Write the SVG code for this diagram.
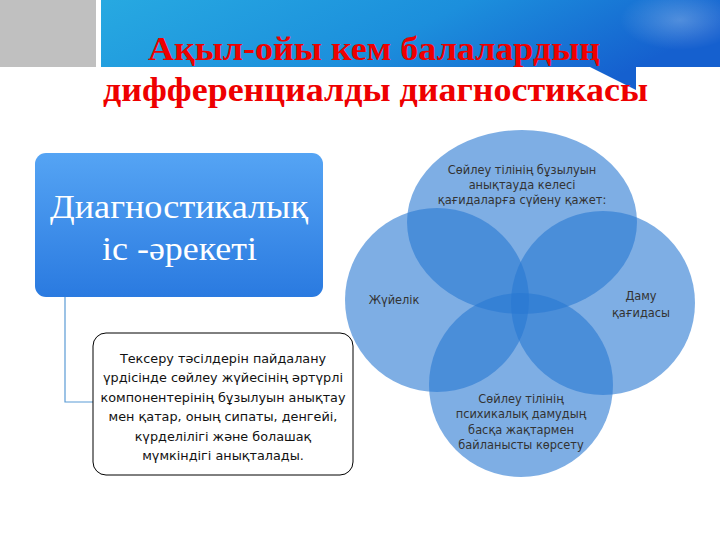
<svg xmlns="http://www.w3.org/2000/svg" width="720" height="540" viewBox="0 0 720 540">
<defs>
<linearGradient id="banner" x1="0" y1="0" x2="1" y2="0.3">
<stop offset="0" stop-color="#27a9e1"/>
<stop offset="0.55" stop-color="#1c8fdc"/>
<stop offset="1" stop-color="#1560cf"/>
</linearGradient>
<linearGradient id="node" x1="0" y1="0" x2="0" y2="1">
<stop offset="0" stop-color="#55a4f4"/>
<stop offset="1" stop-color="#2a7ae0"/>
</linearGradient>
<radialGradient id="glow" cx="0.5" cy="0.5" r="0.5">
<stop offset="0" stop-color="#ffffff" stop-opacity="0.25"/>
<stop offset="1" stop-color="#ffffff" stop-opacity="0"/>
</radialGradient>
</defs>
<style>
.title{font-family:"Liberation Serif","DejaVu Serif",serif;font-weight:bold;font-size:34px;fill:#ee0000}
.circ{fill:#2878d2;fill-opacity:0.6}
.ct{font-family:"DejaVu Sans","Noto Sans",sans-serif;font-size:11.4px;fill:#333333;text-anchor:middle}
.bt{font-family:"DejaVu Sans","Noto Sans",sans-serif;font-size:12.8px;fill:#111111;text-anchor:middle}
.nt{font-family:"Liberation Serif","DejaVu Serif",serif;font-size:33px;fill:#ffffff;text-anchor:middle}
.conn{fill:none;stroke:#5b9bd5;stroke-width:1.2}
</style>
<rect width="720" height="540" fill="#ffffff"/>
<g id="header">
<rect x="0" y="0" width="96" height="67" fill="#c0c0c0"/>
<path d="M101 0 H720 V67 H636 V90 L590 67 H101 Z" fill="url(#banner)"/>
<ellipse cx="680" cy="20" rx="60" ry="30" fill="url(#glow)"/>
<text class="title" x="374" y="60" text-anchor="middle" textLength="452" lengthAdjust="spacingAndGlyphs">Ақыл-ойы кем балалардың</text>
<text class="title" x="375.5" y="101" text-anchor="middle" textLength="545" lengthAdjust="spacingAndGlyphs">дифференциалды диагностикасы</text>
</g>
<g id="connectors">
<path class="conn" d="M65 297 V402 H93"/>
</g>
<g id="node-diagnostic">
<rect x="35" y="153" width="288" height="144" rx="11" fill="url(#node)"/>
<text class="nt" x="179" y="218" textLength="258" lengthAdjust="spacingAndGlyphs">Диагностикалық</text>
<text class="nt" x="179.5" y="260" textLength="155" lengthAdjust="spacingAndGlyphs">іс -әрекеті</text>
</g>
<g id="node-text">
<rect x="93" y="333" width="260" height="142" rx="13" fill="#ffffff" stroke="#000000" stroke-width="1"/>
<text class="bt" x="223" y="363">Тексеру тәсілдерін пайдалану</text>
<text class="bt" x="223" y="382">үрдісінде сөйлеу жүйесінің әртүрлі</text>
<text class="bt" x="223" y="401.5">компонентерінің бұзылуын анықтау</text>
<text class="bt" x="223" y="421">мен қатар, оның сипаты, денгейі,</text>
<text class="bt" x="223" y="441">күрделілігі және болашақ</text>
<text class="bt" x="223" y="460">мүмкіндігі анықталады.</text>
</g>
<g id="venn">
<ellipse id="c-top" class="circ" cx="522" cy="222" rx="115" ry="92"/>
<circle id="c-left" class="circ" cx="437" cy="300" r="92"/>
<circle id="c-right" class="circ" cx="603" cy="303" r="92"/>
<circle id="c-bottom" class="circ" cx="521" cy="385" r="92"/>
<text class="ct" x="522" y="174">Сөйлеу тілінің бұзылуын</text>
<text class="ct" x="522" y="189">анықтауда келесі</text>
<text class="ct" x="522" y="204">қағидаларға сүйену қажет:</text>
<text class="ct" x="394" y="304">Жүйелік</text>
<text class="ct" x="641" y="300">Даму</text>
<text class="ct" x="641" y="317">қағидасы</text>
<text class="ct" x="521" y="403">Сөйлеу тілінің</text>
<text class="ct" x="521" y="418">психикалық дамудың</text>
<text class="ct" x="521" y="434">басқа жақтармен</text>
<text class="ct" x="521" y="449">байланысты көрсету</text>
</g>
</svg>
